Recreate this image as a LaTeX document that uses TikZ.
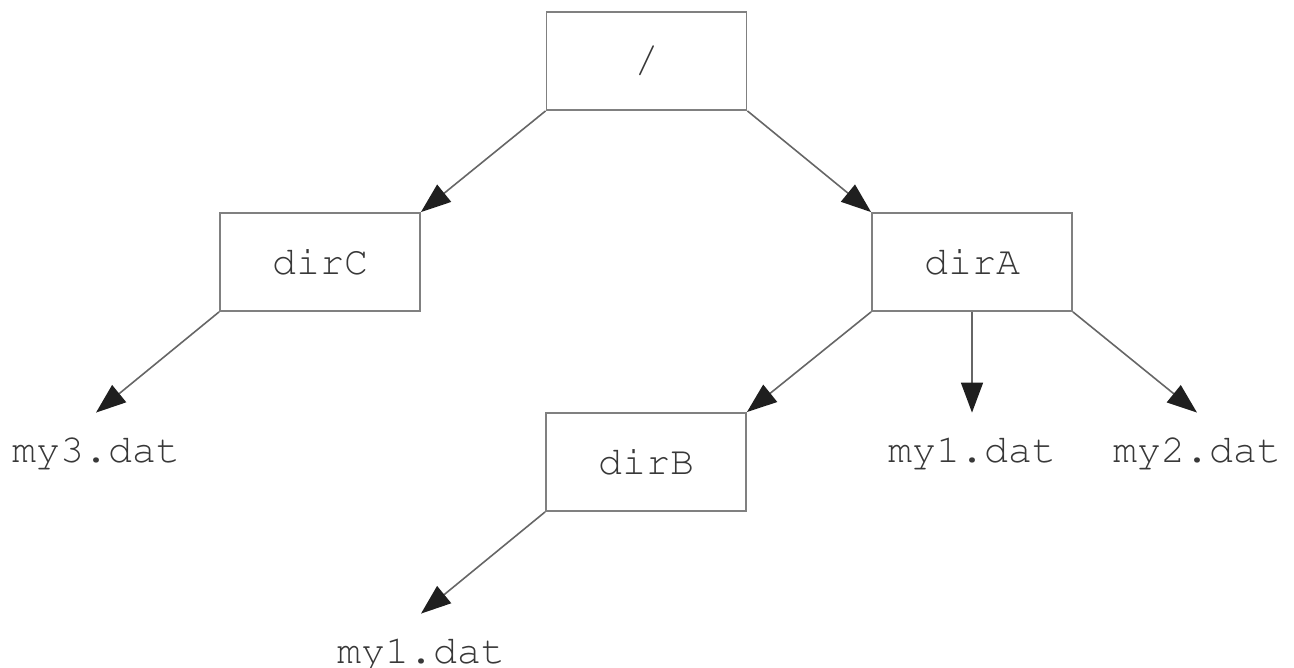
\documentclass[tikz,border=0pt]{standalone}
\usepackage[T1]{fontenc}
\usepackage{courier}
\usetikzlibrary{arrows.meta}
\begin{document}
\begin{tikzpicture}[x=0.5pt,y=-0.5pt,
  txt/.style={font=\fontsize{20}{24}\selectfont\ttfamily, text=black!78},
  box/.style={txt, draw=black!50, line width=0.9pt, minimum width=100pt, minimum height=49pt, inner sep=0pt},
  file/.style={txt, anchor=base, inner sep=0pt, text height=24.5pt, text depth=0pt},
  conn/.style={draw=black!60, line width=0.8pt,
    -{Triangle[length=15pt,width=11pt,fill=black!88,color=black!88]}}]
\useasboundingbox (0,0) rectangle (1294,668);
\node[box] (root) at (646.5,61) {/};
\node[box] (dirC) at (320,262) {dirC};
\node[box] (dirA) at (972,262) {dirA};
\node[box] (dirB) at (646,462) {dirB};
\node[file] (my3) at (96,462) {my3.dat};
\node[file] (my1a) at (972,462) {my1.dat};
\node[file] (my2) at (1197,462) {my2.dat};
\node[file] (my1b) at (421,663) {my1.dat};
\draw[conn] (root.south west) -- (dirC.north east);
\draw[conn] (root.south east) -- (dirA.north west);
\draw[conn] (dirC.south west) -- (my3.north);
\draw[conn] (dirA.south west) -- (dirB.north east);
\draw[conn] (dirA.south) -- (my1a.north);
\draw[conn] (dirA.south east) -- (my2.north);
\draw[conn] (dirB.south west) -- (my1b.north);
\end{tikzpicture}
\end{document}
